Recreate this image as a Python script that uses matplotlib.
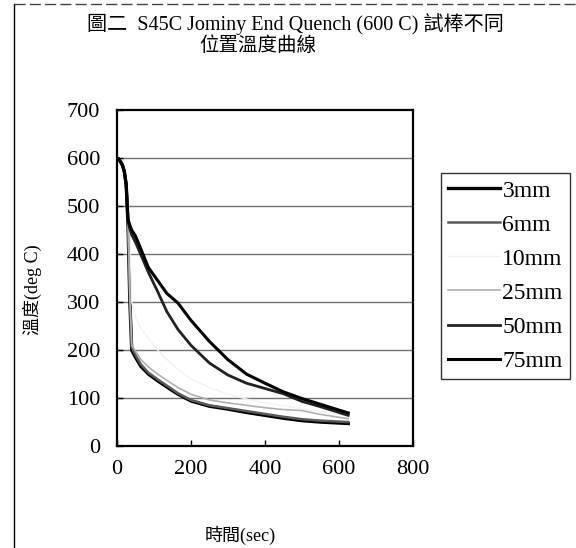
import matplotlib
matplotlib.use("Agg")
import matplotlib.pyplot as plt
from matplotlib.lines import Line2D

plt.rcParams['font.family'] = ['Liberation Serif', 'Noto Sans CJK TC']

# 時間 (sec)
t = [0, 5, 10, 15, 20, 25, 30, 35, 40, 50, 65, 85, 110, 135, 165, 200,
     250, 300, 350, 400, 450, 500, 550, 600, 625]

# 溫度 (deg C)
mm3 = [600, 598, 592, 585, 572, 545, 460, 300, 200, 185, 166, 150, 136, 123,
       108, 94, 83, 77, 70, 64, 58, 53, 50, 48, 47]
mm6 = [600, 598, 592, 585, 572, 545, 462, 305, 205, 190, 170, 153, 139, 126,
       110, 96, 85, 79, 73, 67, 61, 56, 53, 51, 50]
mm10 = [600, 598, 592, 585, 572, 545, 470, 440, 300, 270, 245, 225, 200, 180,
        160, 140, 122, 108, 98, 90, 84, 78, 72, 66, 62]
mm25 = [600, 598, 592, 585, 572, 545, 464, 310, 210, 198, 180, 165, 150, 137,
        122, 108, 96, 90, 85, 80, 76, 74, 66, 60, 57]
mm50 = [600, 598, 592, 585, 572, 545, 468, 452, 440, 425, 398, 362, 322, 280,
        243, 210, 173, 148, 131, 120, 109, 93, 82, 70, 64]
mm75 = [600, 598, 592, 585, 572, 545, 472, 460, 450, 438, 410, 372, 345, 318,
        298, 262, 218, 180, 150, 131, 113, 99, 87, 75, 69]

labels = ['3mm', '6mm', '10mm', '25mm', '50mm', '75mm']
series = [mm3, mm6, mm10, mm25, mm50, mm75]
colors = ['black', '#5a5a5a', '#f2f2f2', '#b0b0b0', '#222222', 'black']
widths = [2.4, 1.8, 1.0, 1.2, 2.0, 2.2]

fig = plt.figure(figsize=(5.76, 5.48), dpi=100)
ax = fig.add_axes([0.203, 0.186, 0.514, 0.613])

for y in range(100, 700, 100):
    ax.axhline(y, color='#707070', lw=1.0, zorder=0)

for vals, lab, c, w in zip(series, labels, colors, widths):
    ax.plot(t, vals, color=c, lw=w, label=lab)

ax.set_xlim(0, 800)
ax.set_ylim(0, 700)
ax.set_xticks([0, 200, 400, 600, 800])
ax.set_yticks(range(0, 800, 100))
ax.tick_params(direction='in', length=4, labelsize=16, width=1)
ax.tick_params(axis='y', pad=12)
ax.tick_params(axis='x', pad=10)
for s in ax.spines.values():
    s.set_linewidth(1.6)

fig.text(295 / 576, 1 - 24 / 548, '圖二  S45C Jominy End Quench (600 C) 試棒不同',
         ha='center', va='center', fontsize=14.5)
fig.text(258 / 576, 1 - 46 / 548, '位置溫度曲線', ha='center', va='center',
         fontsize=14)
fig.text(32 / 576, 1 - 290 / 548, '溫度(deg C)', rotation=90, ha='center',
         va='center', fontsize=13)
fig.text(240 / 576, 1 - 535 / 548, '時間(sec)', ha='center', va='center',
         fontsize=13)

leg = fig.legend(loc='upper left', bbox_to_anchor=(441 / 576, 1 - 173 / 548),
                 fontsize=17, frameon=True, fancybox=False, handlelength=2.2,
                 handletextpad=0.1, labelspacing=0.53, borderpad=0.3,
                 borderaxespad=0)
leg.get_frame().set_edgecolor('black')
leg.get_frame().set_linewidth(1.0)

# outer frame of the scanned figure
fig.add_artist(Line2D([14 / 576, 14 / 576], [0, 1 - 4 / 548], color='black',
                      lw=1, transform=fig.transFigure))
fig.add_artist(Line2D([14 / 576, 1], [1 - 4 / 548, 1 - 4 / 548],
                      color='#444444', lw=1, ls=(0, (8, 3)),
                      transform=fig.transFigure))

fig.savefig('out.png', dpi=100)
